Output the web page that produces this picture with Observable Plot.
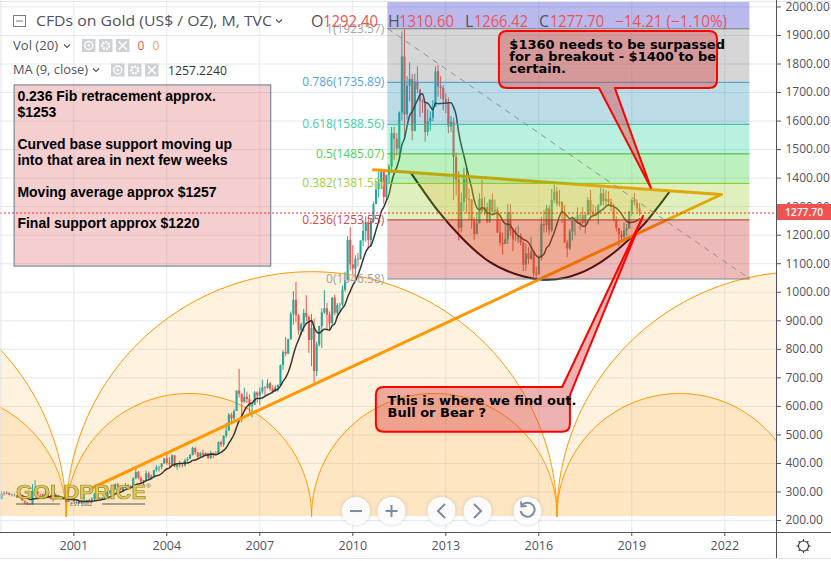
<!DOCTYPE html>
<html><head><meta charset="utf-8">
<script src="https://cdn.jsdelivr.net/npm/d3@7"></script>
<script src="https://cdn.jsdelivr.net/npm/@observablehq/plot@0.6"></script>
<style>html,body{margin:0;padding:0;background:#fff;overflow:hidden}svg{display:block}</style>
</head><body><div id="chart"></div>
<script>
// Monthly candles, first month Sep 1998
const firstMonth = 1998 + 8 / 12;
const firstOpen = 273;
const closes = [
 293,292,294,288,
 287,287,279,286,268,261,255,254,299,299,291,290,
 283,293,277,274,272,288,277,277,273,264,270,274,
 265,266,258,263,266,270,266,273,293,279,275,277,
 282,297,302,308,326,318,304,312,323,317,319,347,
 368,347,336,339,364,346,354,375,385,386,398,416,
 400,396,427,387,394,393,391,409,415,428,452,438,
 422,434,428,435,417,436,429,433,473,465,495,513,
 569,556,582,654,643,614,632,624,599,604,647,636,
 650,665,663,679,660,650,665,672,743,789,783,834,
 923,972,917,865,886,926,912,831,875,722,815,880,
 928,942,920,890,979,926,954,955,1007,1040,1182,1096,
 1081,1116,1113,1180,1213,1244,1181,1248,1307,1359,1385,1420,
 1332,1409,1439,1556,1536,1502,1628,1825,1622,1722,1746,1564,
 1737,1710,1669,1664,1560,1597,1610,1648,1773,1719,1714,1675,
 1663,1579,1596,1472,1393,1224,1314,1396,1327,1323,1250,1202,
 1240,1326,1284,1296,1246,1322,1282,1287,1208,1172,1167,1184,
 1279,1213,1183,1184,1190,1172,1095,1134,1115,1142,1065,1061,
 1118,1238,1233,1293,1215,1322,1351,1309,1316,1272,1173,1152,
 1211,1249,1249,1268,1269,1242,1269,1321,1280,1271,1275,1303,
 1345,1318,1325,1315,1298,1253,1224,1201,1192,1215,1222,1282,
 1321,1313,1292.4,1277.7];
const highs = [
 301,300,300,297,
 292,293,288,292,290,265,263,259,326,339,301,293,
 292,316,297,288,280,294,285,279,278,271,272,275,
 270,268,268,266,290,271,275,280,294,284,278,281,
 284,300,305,311,328,330,320,320,330,325,322,350,
 385,372,353,341,373,370,360,376,392,390,400,417,
 430,420,430,426,396,407,400,415,420,432,457,456,
 428,439,446,437,435,443,431,441,476,478,497,540,
 575,576,588,654,730,637,664,650,640,611,652,651,
 665,692,670,694,684,672,673,677,745,795,841,835,
 930,1002,1034,922,892,940,988,917,922,906,825,881,
 941,1006,961,931,982,989,960,961,1022,1070,1195,1227,
 1163,1129,1136,1180,1249,1265,1262,1255,1316,1388,1424,1431,
 1424,1411,1447,1577,1578,1556,1632,1913,1920,1755,1804,1763,
 1764,1790,1696,1676,1668,1640,1632,1672,1790,1795,1755,1725,
 1695,1681,1616,1610,1488,1423,1348,1435,1435,1362,1325,1261,
 1279,1345,1392,1332,1312,1325,1345,1323,1296,1255,1208,1238,
 1308,1307,1224,1224,1233,1205,1177,1169,1157,1192,1143,1088,
 1128,1263,1287,1305,1303,1360,1375,1367,1357,1316,1304,1182,
 1220,1264,1262,1295,1272,1297,1273,1331,1357,1306,1299,1308,
 1365,1361,1356,1352,1326,1309,1265,1220,1214,1243,1238,1283,
 1326,1347,1324,1310.6];
const lows = [
 273,286,290,287,
 283,282,278,278,268,256,252,252,254,294,290,279,
 281,283,277,272,264,272,276,270,271,263,264,267,
 263,257,256,255,264,265,265,265,271,278,272,270,
 276,281,290,300,306,315,304,302,312,311,313,318,
 342,343,326,322,335,342,343,352,370,370,378,398,
 394,386,391,386,376,384,385,387,402,413,426,430,
 416,420,423,426,414,414,417,429,433,456,456,488,
 513,540,544,582,630,543,610,610,573,560,603,612,
 603,642,637,660,652,643,650,650,672,726,775,782,
 832,885,893,850,847,859,896,786,739,681,704,808,
 802,922,865,865,887,917,908,930,950,1000,1040,1075,
 1060,1045,1088,1114,1160,1176,1153,1157,1242,1318,1330,1360,
 1308,1320,1380,1418,1462,1478,1478,1600,1535,1604,1667,1531,
 1562,1696,1612,1627,1526,1547,1564,1598,1650,1683,1676,1635,
 1626,1555,1560,1322,1337,1180,1208,1282,1275,1251,1221,1182,
 1221,1240,1277,1268,1240,1241,1280,1272,1205,1160,1130,1168,
 1168,1197,1142,1178,1170,1162,1072,1074,1096,1111,1053,1046,
 1061,1110,1207,1208,1199,1208,1310,1301,1299,1241,1171,1122,
 1146,1180,1198,1245,1215,1236,1205,1268,1262,1262,1264,1236,
 1303,1303,1303,1302,1282,1246,1211,1160,1180,1182,1196,1221,
 1266,1303,1281,1266.42];

// Fibonacci retracement
const fibStart = 2011.13, fibEnd = 2022.81, fibTop = 2016;
const fibNames  = ["0","0.236","0.382","0.5","0.618","0.786","1"];
const fibPrices = [1046.58,1253.55,1381.58,1485.07,1588.56,1735.89,1923.57];
const fibFills  = ["#c61616","#98cd20","#20cd20","#1ccd98","#208ab0","#767676","#1616c6"];
const fibLines  = ["#787878","#b03a2a","#86c81c","#37b837","#35b89a","#4596c4","#787878"];
const fibTexts  = ["#a3a3a3","#d44a4a","#9fd03c","#4fd04f","#45d0a5","#52a5d8","#a3a3a3"];

// Cycle arcs
const cycleBase = 214, arcPeakOuter = 1072, arcPeakInner = 645;
const outerSpans = [[1984.925,2000.755],[2000.755,2016.585],[2016.585,2032.415]];
const innerSpans = [[1992.84,2000.755],[2000.755,2008.67],[2008.67,2016.585],[2016.585,2024.5]];

// Trend lines and curved base
const supportYears = [2001.54,2021.89], supportPrices = [312,1342.6];
const resistYears  = [2010.67,2021.89], resistPrices  = [1429,1342.6];
const curveYears  = [2011.89,2012.73,2013.56,2014.39,2015.22,2016.05,2016.89,2017.72,2018.55,2019.39,2020.22];
const curvePrices = [1416,1288,1186,1108,1065,1045,1052,1087,1150,1238,1353];

const yearTicks = [2001,2004,2007,2010,2013,2016,2019,2022];
const priceTicks = d3.range(200,2001,100);

const boxText = "0.236 Fib retracement approx.\n$1253\n\nCurved base support moving up\ninto that area in next few weeks\n\nMoving average approx $1257\n\nFinal support approx $1220";
const note1 = "$1360 needs to be surpassed\nfor a breakout - $1400 to be\ncertain.";
const note2 = "This is where we find out.\nBull or Bear ?";

const lastClose = 1277.7;
const UP = "#26a69a", DOWN = "#ef5350", ORANGE = "#ff9800", INK = "#50535e";
const UI = "'Open Sans', sans-serif";

const rows = closes.map((c,i)=>({t:firstMonth+i/12,o:i?closes[i-1]:firstOpen,h:highs[i],l:lows[i],c}));
const candleColor = d => d.c>=d.o?UP:DOWN;

const bands = fibPrices.map((p,i)=>({lo:p,hi:i<fibPrices.length-1?fibPrices[i+1]:fibTop,fill:fibFills[i]}));
const fibRows = fibPrices.map((p,i)=>({p,label:`${fibNames[i]}(${p.toFixed(2)})`,line:fibLines[i],text:fibTexts[i]}));

function arcPoints(spans,peak,tag){
  const pts=[];
  spans.forEach(([a,b],k)=>{
    const c=(a+b)/2,r=(b-a)/2;
    for(let s=0;s<=180;s++){
      const th=Math.PI*(1-s/180);
      pts.push({id:tag+k,x:c+r*Math.cos(th),y:cycleBase+(peak-cycleBase)*Math.sin(th)});
    }
  });
  return pts;
}
const outerArcs=arcPoints(outerSpans,arcPeakOuter,"o");
const innerArcs=arcPoints(innerSpans,arcPeakInner,"i");
const curveRows=curveYears.map((x,i)=>({x,y:curvePrices[i]}));
const supportRows=supportYears.map((x,i)=>({x,y:supportPrices[i]}));
const resistRows=resistYears.map((x,i)=>({x,y:resistPrices[i]}));

// Callouts (year, price) outline drawn through the scales
function callouts(i,{x,y}){
  const g=d3.create("svg:g");
  const r=8;
  const paint=p=>g.append("path").attr("d",p).attr("fill","rgba(215,62,62,0.4)").attr("stroke","#f00").attr("stroke-width",2).attr("stroke-linejoin","round");
  {
    const L=x(2014.73),R=x(2021.765),T=y(1914),B=y(1714);
    const p=d3.path();
    p.moveTo(L+r,T);p.lineTo(R-r,T);p.quadraticCurveTo(R,T,R,T+r);p.lineTo(R,B-r);p.quadraticCurveTo(R,B,R-r,B);
    p.lineTo(x(2018.47),B);p.lineTo(x(2019.63),y(1364));p.lineTo(x(2017.96),B);
    p.lineTo(L+r,B);p.quadraticCurveTo(L,B,L,B-r);p.lineTo(L,T+r);p.quadraticCurveTo(L,T,L+r,T);p.closePath();
    paint(p.toString());
  }
  {
    const L=x(2010.76),R=x(2017.02),T=y(666),B=y(509.5);
    const p=d3.path();
    p.moveTo(L+r,T);p.lineTo(x(2016.77),T);p.lineTo(x(2019.38),y(1265.6));p.lineTo(R,y(638));
    p.lineTo(R,B-r);p.quadraticCurveTo(R,B,R-r,B);p.lineTo(L+r,B);p.quadraticCurveTo(L,B,L,B-r);p.lineTo(L,T+r);p.quadraticCurveTo(L,T,L+r,T);p.closePath();
    paint(p.toString());
  }
  return g.node();
}

// Interface furniture: header, icons, buttons, logo, price tag
function chrome(){
  const g=d3.create("svg:g");
  const txt=(x,y,s,o={})=>{
    const e=g.append("text").attr("x",x).attr("y",y).attr("dy","0.35em").text(s)
      .attr("font-family",o.family||UI).attr("font-size",o.size||12).attr("fill",o.fill||INK)
      .attr("text-anchor",o.anchor||"start").attr("font-weight",o.weight||"normal");
    if(o.len) e.attr("textLength",o.len).attr("lengthAdjust","spacingAndGlyphs");
    return e;
  };
  const ln=(a,b,c,d,s,w=1)=>g.append("line").attr("x1",a).attr("y1",b).attr("x2",c).attr("y2",d).attr("stroke",s).attr("stroke-width",w);
  const chev=(x,y)=>g.append("path").attr("d",`M${x},${y-1.5}l3,3l3,-3`).attr("fill","none").attr("stroke",INK).attr("stroke-width",1.1);
  const icons=(xs,y)=>{
    xs.forEach((x,k)=>{
      g.append("rect").attr("x",x).attr("y",y).attr("width",13.5).attr("height",13).attr("fill","#ced1d8");
      const cx=x+6.75,cy=y+6.5;
      if(k==0){g.append("circle").attr("cx",cx).attr("cy",cy).attr("r",4).attr("fill","none").attr("stroke","#fff").attr("stroke-width",1.4);g.append("circle").attr("cx",cx).attr("cy",cy).attr("r",1.2).attr("fill","#fff");}
      if(k==1){g.append("circle").attr("cx",cx).attr("cy",cy).attr("r",3.4).attr("fill","none").attr("stroke","#fff").attr("stroke-width",2.6).attr("stroke-dasharray","2,1");}
      if(k==2){ln(cx-4,cy-4,cx+4,cy+4,"#fff",1.6);ln(cx+4,cy-4,cx-4,cy+4,"#fff",1.6);}
    });
  };
  // frame and axes
  ln(1,0,1,532,"#e0e3eb");ln(0,1.5,831,1.5,"#e0e3eb");ln(0,558.5,831,558.5,"#e0e3eb");
  ln(0,532.5,831,532.5,"#50535e");ln(776.5,0,776.5,558,"#50535e");
  // header
  g.append("rect").attr("x",13.5).attr("y",15.5).attr("width",12).attr("height",11).attr("fill","none").attr("stroke","#787b86");
  ln(16,21,23,21,"#787b86");
  txt(36,21,"CFDs on Gold (US$ / OZ), M, TVC",{size:14,len:236});chev(276,21);
  const red="#ef5350";
  txt(311,21,"O",{size:16,fill:"#555"});txt(323,21,"1292.40",{size:16,fill:red,len:55});
  txt(388,21,"H",{size:16,fill:"#555"});txt(399,21,"1310.60",{size:16,fill:red,len:55});
  txt(465,21,"L",{size:16,fill:"#555"});txt(474,21,"1266.42",{size:16,fill:red,len:54});
  txt(539,21,"C",{size:16,fill:"#555"});txt(550,21,"1277.70",{size:16,fill:red,len:54});
  txt(615,21,"\u221214.21 (\u22121.10%)",{size:16,fill:red,len:112});
  txt(13,45.5,"Vol (20)",{size:12,len:45});chev(64,46);icons([82,99,116],39);
  txt(137.5,46,"0",{size:12,fill:"#ef5350"});txt(152.5,46,"0",{size:12,fill:"#ff9f40"});
  txt(13,70,"MA (9, close)",{size:12,len:75});chev(93,70);icons([111,128,145],63.5);
  txt(168,70.5,"1257.2240",{size:12,fill:"#333",len:59});
  // price tag
  g.append("rect").attr("x",777).attr("y",204).attr("width",54).attr("height",16).attr("fill","#ef5350");
  txt(804,212,"1277.70",{size:11.5,fill:"#fff",anchor:"middle",weight:600,len:38});
  // logo
  txt(16,492,"GOLDPRICE",{size:21,weight:"bold",family:"'Liberation Sans',sans-serif",fill:"#d9c94f",len:130})
    .attr("stroke","#8b7b1c").attr("stroke-width",0.7).attr("opacity",0.9);
  txt(146,486,"\u00ae",{size:6,fill:"#777"});
  ln(16,504,60,504,"#555");ln(102,504,145,504,"#555");
  txt(81,504,"EST 2002",{size:5.5,fill:"#555",anchor:"middle",family:"'Liberation Serif',serif"});
  // zoom and scroll buttons
  [356,391.5,441.5,477.5,527.5].forEach(cx=>g.append("circle").attr("cx",cx).attr("cy",511).attr("r",14).attr("fill","#fff").attr("fill-opacity",0.92).style("filter","drop-shadow(0 0 2px rgba(60,80,110,0.25))"));
  const ic="#7d8c9e";
  ln(350,511,362,511,ic,2);ln(385.5,511,397.5,511,ic,2);ln(391.5,505,391.5,517,ic,2);
  const pl=d=>g.append("path").attr("d",d).attr("fill","none").attr("stroke",ic).attr("stroke-width",2);
  pl("M445,504l-7,7l7,7");pl("M474,504l7,7l-7,7");
  pl("M522,505.5 A7,7 0 1 1 520.7,511");pl("M521,501.5l0.5,5l5,-0.5");
  // settings gear
  g.append("circle").attr("cx",803.5).attr("cy",546).attr("r",5).attr("fill","none").attr("stroke","#333").attr("stroke-width",1.1);
  for(let a=0;a<8;a++){const t=a*Math.PI/4;ln(803.5+5*Math.cos(t),546+5*Math.sin(t),803.5+7*Math.cos(t),546+7*Math.sin(t),"#333",1.1);}
  return g.node();
}

const chart = Plot.plot({
  width:831,height:561,marginLeft:0,marginRight:55,marginTop:0,marginBottom:29,
  style:{fontFamily:UI,fontSize:"12px",color:INK,background:"#fff",overflow:"visible"},
  x:{domain:[1998.635,2023.668],range:[0,776],label:null},
  y:{domain:[157.94,2022.6],range:[532,0],label:null},
  marks:[
    Plot.gridX(yearTicks,{stroke:"#e3eaf1",strokeOpacity:1}),
    Plot.gridY(priceTicks,{stroke:"#e3eaf1",strokeOpacity:1}),
    Plot.axisX({anchor:"bottom",ticks:yearTicks,tickFormat:d=>String(d),tickSize:4,tickPadding:5,label:null,fontSize:12.5}),
    Plot.axisY({anchor:"right",ticks:priceTicks,tickFormat:d=>d.toFixed(2),tickSize:4,tickPadding:5,label:null,fontSize:12}),
    // cycle arcs
    Plot.areaY(outerArcs,{x:"x",y1:cycleBase,y2:"y",z:"id",fill:ORANGE,fillOpacity:0.125,clip:true}),
    Plot.areaY(innerArcs,{x:"x",y1:cycleBase,y2:"y",z:"id",fill:ORANGE,fillOpacity:0.125,clip:true}),
    Plot.line(outerArcs,{x:"x",y:"y",z:"id",stroke:ORANGE,strokeWidth:1,clip:true}),
    Plot.line(innerArcs,{x:"x",y:"y",z:"id",stroke:ORANGE,strokeWidth:1,clip:true}),
    // candles and moving average
    Plot.ruleX(rows,{x:"t",y1:"l",y2:"h",stroke:candleColor,strokeWidth:1}),
    Plot.ruleX(rows,{x:"t",y1:"o",y2:"c",stroke:candleColor,strokeWidth:2.1}),
    Plot.line(rows,Plot.windowY({k:9,anchor:"end",strict:true,reduce:"mean"},{x:"t",y:"c",stroke:"#222",strokeOpacity:0.9,strokeWidth:1.5,curve:"monotone-x"})),
    // curved base and trend lines
    Plot.areaY(curveRows,{x:"x",y1:d=>curvePrices[0]+(d.x-curveYears[0])*(curvePrices[10]-curvePrices[0])/(curveYears[10]-curveYears[0]),y2:"y",fill:ORANGE,fillOpacity:0.2,curve:"natural"}),
    Plot.line(curveRows,{x:"x",y:"y",stroke:"#1c1410",strokeWidth:2,curve:"natural"}),
    Plot.line(supportRows,{x:"x",y:"y",stroke:ORANGE,strokeWidth:3}),
    Plot.line(resistRows,{x:"x",y:"y",stroke:ORANGE,strokeWidth:3}),
    // fib retracement on top
    Plot.rect(bands,{x1:fibStart,x2:fibEnd,y1:"lo",y2:"hi",fill:"fill",fillOpacity:0.3}),
    Plot.ruleY(fibRows,{x1:fibStart,x2:fibEnd,y:"p",stroke:"line",strokeWidth:1}),
    Plot.text(fibRows,{x:fibStart,y:"p",text:"label",fill:"text",textAnchor:"end",dx:-3.5,fontSize:12}),
    Plot.line([{x:fibStart,y:fibPrices[6]},{x:fibEnd,y:fibPrices[0]}],{x:"x",y:"y",stroke:"#8f929b",strokeWidth:1,strokeDasharray:"5,6"}),
    // left note
    Plot.rect([0],{x1:1999.09,x2:2007.37,y1:1090,y2:1725,fill:"rgba(215,62,62,0.25)",stroke:"#5f7a93",strokeWidth:1}),
    Plot.text([boxText],{x:1999.18,y:1710.7,text:d=>d,textAnchor:"start",lineAnchor:"top",lineHeight:1.14,fontSize:14,fontWeight:"bold",fontFamily:"'Liberation Sans',Arial,sans-serif",fill:"#000"}),
    // last price line
    Plot.ruleY([lastClose],{stroke:"#f03030",strokeWidth:1,strokeDasharray:"2,2"}),
    callouts,
    Plot.text([note1],{x:2015.05,y:1884,text:d=>d,textAnchor:"start",lineAnchor:"top",lineHeight:0.94,fontSize:13,fontWeight:"bold",fontFamily:"'DejaVu Sans',Verdana,sans-serif",fill:"#000"}),
    Plot.text([note2],{x:2011.12,y:635,text:d=>d,textAnchor:"start",lineAnchor:"top",lineHeight:0.94,fontSize:13,fontWeight:"bold",fontFamily:"'DejaVu Sans',Verdana,sans-serif",fill:"#000"}),
    chrome
  ]
});
document.getElementById("chart").append(chart);
</script></body></html>
